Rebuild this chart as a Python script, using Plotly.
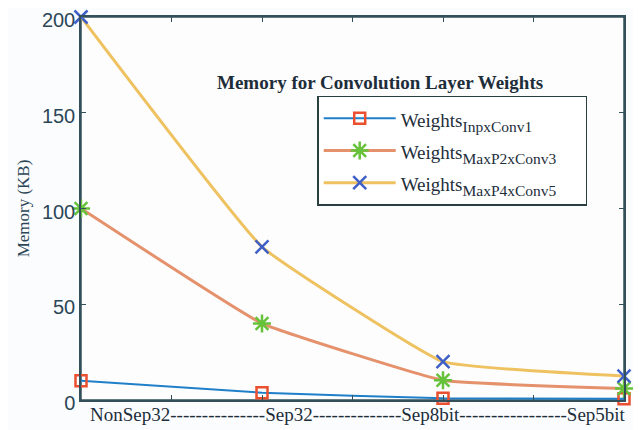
import plotly.graph_objects as go

x_pos = [0, 2, 4, 6]
series_subs = ["InpxConv1", "MaxP2xConv3", "MaxP4xConv5"]
inpx_conv1 = [10, 3.8, 0.9, 0.6]
maxp2_conv3 = [100, 40, 10.3, 6]
maxp4_conv5 = [200, 80, 20, 12.5]
y_ticks = [0, 50, 100, 150, 200]
x_label = "NonSep32" + "-" * 15 + "Sep32" + "-" * 14 + "Sep8bit" + "-" * 17 + "Sep5bit"
title_text = "Memory for Convolution Layer Weights"

line_colors = ["#1f7fc8", "#e4916c", "#efc261"]
marker_colors = ["#ea4f2f", "#66c23a", "#3f5fc6"]
symbols = ["square-open", "asterisk-open", "x-thin-open"]
msizes = [11, 15, 13]
lwidths = [2, 3, 3]


def legend_name(sub):
    return ("<span style='font-size:19px'>Weights</span>"
            "<sub><span style='font-size:15.5px'>" + sub + "</span></sub>"
            "<span style='font-size:19px'>&nbsp;&nbsp;&nbsp;&nbsp;&nbsp;</span>")


fig = go.Figure()
for sub, ys, lc, mc, sym, ms, lw in zip(series_subs, [inpx_conv1, maxp2_conv3, maxp4_conv5],
                                        line_colors, marker_colors, symbols, msizes, lwidths):
    fig.add_trace(go.Scatter(
        x=x_pos, y=ys, name=legend_name(sub), mode="lines+markers",
        line=dict(color=lc, width=lw, shape="spline", smoothing=0.3),
        marker=dict(symbol=sym, size=ms, color=mc, line=dict(color=mc, width=2.5)),
        cliponaxis=False,
    ))

axis_col = "#33505a"
fig.update_layout(
    width=641, height=430,
    margin=dict(l=73, r=25, t=9, b=38),
    paper_bgcolor="#fbfcfe", plot_bgcolor="#fdfdfe",
    showlegend=True,
    legend=dict(
        x=0.435, y=0.795, xanchor="left", yanchor="top",
        bgcolor="#ffffff", bordercolor="#2a3f40", borderwidth=1.5,
        font=dict(family="Liberation Serif", size=22.5, color="#1d2e3a"),
        itemwidth=72, tracegroupgap=0,
    ),
    xaxis=dict(
        range=[0, 6], tickvals=[0, 1, 2, 3, 4, 5, 6], ticktext=[""] * 7,
        ticks="inside", ticklen=5, tickcolor=axis_col, tickwidth=1,
        showline=True, linecolor=axis_col, linewidth=1.5, mirror="allticks",
        showgrid=False, zeroline=False, automargin=False,
    ),
    yaxis=dict(
        range=[0, 200], tickvals=y_ticks,
        ticks="inside", ticklen=5, tickcolor=axis_col, tickwidth=1,
        showline=True, linecolor=axis_col, linewidth=1.5, mirror="allticks",
        showgrid=False, zeroline=False, automargin=False,
        ticklabeloverflow="allow", ticklabelshift=3,
        tickfont=dict(family="Liberation Sans", size=20, color="#2b4757"),
        title=dict(text="Memory (KB)", font=dict(family="Liberation Serif", size=17, color="#2b4757"), standoff=8),
    ),
    shapes=[
        dict(type="rect", xref="paper", yref="paper", x0=0, y0=0, x1=1, y1=1,
             line=dict(color=axis_col, width=1.5), layer="below"),
    ],
    annotations=[
        dict(text="<b>" + title_text + "</b>", xref="paper", yref="paper", x=0.55, y=0.862,
             showarrow=False, font=dict(family="Liberation Serif", size=19, color="#1d2e3a")),
        dict(text=x_label, xref="paper", yref="paper", x=0.51, y=0, yshift=-14,
             yanchor="middle", showarrow=False,
             font=dict(family="Liberation Serif", size=19, color="#1d2e3a")),
    ],
)

fig.write_html("out.html")
